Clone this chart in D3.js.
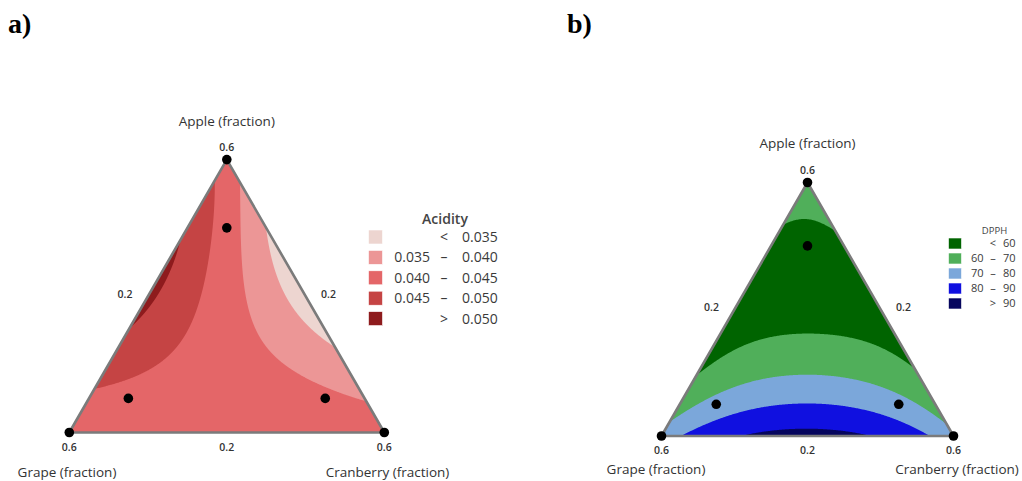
<!DOCTYPE html>
<html><head><meta charset="utf-8">
<script src="https://cdn.jsdelivr.net/npm/d3@7"></script>
<style>
body{margin:0;background:#fff}
</style>
</head><body>
<svg id="c" width="1022" height="481" font-family="'Open Sans','Noto Sans',sans-serif"></svg>
<script>
// ---------- DATA (compositions are pseudo-component fractions: apple, grape, cranberry) ----------
const componentNames = ["Apple (fraction)", "Grape (fraction)", "Cranberry (fraction)"];
const vertexTick = "0.6";
const midTick = "0.2";
const designPoints = [[1,0,0],[0,1,0],[0,0,1],[0.75,0.125,0.125],[0.125,0.75,0.125],[0.125,0.125,0.75]];

const acidityThresholds = [0.035, 0.040, 0.045, 0.050];
const acidityColors = ["#EDD5D0", "#EC9696", "#E46668", "#C54444", "#8E1B1D"];
const acidityLegend = [["", "<", "0.035"], ["0.035", "–", "0.040"], ["0.040", "–", "0.045"], ["0.045", "–", "0.050"], ["", ">", "0.050"]];
// readings [apple, grape, cranberry, acidity]
const acidityObs = [
  [0.912,0.079,0.009,0.045],[0.790,0.148,0.062,0.045],[0.668,0.219,0.113,0.045],[0.546,0.292,0.162,0.045],
  [0.461,0.350,0.189,0.045],[0.388,0.413,0.199,0.045],[0.315,0.502,0.183,0.045],[0.254,0.607,0.139,0.045],
  [0.205,0.716,0.079,0.045],[0.159,0.841,0.000,0.045],
  [0.705,0.295,0.000,0.050],[0.620,0.362,0.018,0.050],[0.522,0.453,0.025,0.050],[0.449,0.531,0.020,0.050],[0.388,0.612,0.000,0.050],
  [0.918,0.000,0.082,0.040],[0.790,0.068,0.142,0.040],[0.668,0.126,0.206,0.040],[0.546,0.178,0.276,0.040],
  [0.449,0.214,0.337,0.040],[0.351,0.231,0.418,0.040],[0.278,0.225,0.497,0.040],[0.217,0.181,0.602,0.040],
  [0.168,0.099,0.733,0.040],[0.120,0.000,0.880,0.040],
  [0.741,0.000,0.259,0.035],[0.644,0.032,0.324,0.035],[0.546,0.049,0.405,0.035],[0.461,0.049,0.490,0.035],
  [0.388,0.032,0.580,0.035],[0.296,0.000,0.704,0.035],
  [1,0,0,0.0425],[0,1,0,0.0395],[0,0,1,0.0415],[0,0.5,0.5,0.0425],[0,0.75,0.25,0.042],[0,0.25,0.75,0.042],
  [0.3333,0.3333,0.3334,0.0425],[0.55,0.45,0,0.0515],[0.52,0,0.48,0.0318],[0.55,0.02,0.43,0.0328],
  [0.45,0.02,0.53,0.0330],[0.64,0.0,0.36,0.0328],
  [0.75,0.125,0.125,0.0425],[0.125,0.75,0.125,0.0435],[0.125,0.125,0.75,0.0412],[0.08,0.92,0,0.043]
];

const dpphThresholds = [60, 70, 80, 90];
const dpphColors = ["#006400", "#50AF5A", "#7BA7DA", "#1010E0", "#06065E"];
const dpphLegend = [["", "<", "60"], ["60", "–", "70"], ["70", "–", "80"], ["80", "–", "90"], ["", ">", "90"]];
// readings [apple, grape, cranberry, DPPH]
const dpphObs = [
  [0.871,0.129,0.000,60],[0.847,0.076,0.077,60],[0.834,0.000,0.166,60],
  [0.212,0.788,0.000,60],[0.319,0.596,0.085,60],[0.385,0.414,0.201,60],[0.411,0.287,0.302,60],
  [0.398,0.179,0.423,60],[0.332,0.075,0.593,60],[0.253,0.000,0.747,60],
  [0.070,0.930,0.000,70],[0.175,0.724,0.101,70],[0.227,0.527,0.246,70],[0.243,0.371,0.386,70],
  [0.227,0.241,0.532,70],[0.162,0.102,0.736,70],[0.063,0.000,0.937,70],
  [0.007,0.911,0.082,80],[0.070,0.776,0.154,80],[0.112,0.607,0.281,80],[0.125,0.441,0.434,80],
  [0.115,0.297,0.588,80],[0.076,0.179,0.745,80],[0.007,0.099,0.894,80],
  [0.007,0.694,0.299,90],[0.028,0.512,0.460,90],[0.017,0.323,0.660,90],[0.007,0.293,0.700,90],
  [1,0,0,63],[0,1,0,74],[0,0,1,72.5],[0,0.5,0.5,92.5],[0.62,0.19,0.19,56],[0.55,0.45,0,56.5],[0.55,0,0.45,57]
];

// ---------- MODEL FIT (least squares polynomial response surface) ----------
function basis(a, c, deg) {
  const t = [];
  for (let i = 0; i <= deg; i++) for (let j = 0; i + j <= deg; j++) t.push(Math.pow(a, i) * Math.pow(c, j));
  return t;
}
function fitSurface(obs, deg, ridge) {
  const vals = obs.map(o => o[3]);
  const mu = d3.mean(vals), sd = d3.deviation(vals);
  const X = obs.map(o => basis(o[0], o[2], deg));
  const y = vals.map(v => (v - mu) / sd);
  const p = X[0].length;
  const A = Array.from({length: p}, () => new Array(p + 1).fill(0));
  X.forEach((row, k) => {
    for (let i = 0; i < p; i++) {
      for (let j = 0; j < p; j++) A[i][j] += row[i] * row[j];
      A[i][p] += row[i] * y[k];
    }
  });
  for (let i = 0; i < p; i++) A[i][i] += ridge;
  for (let col = 0; col < p; col++) {
    let piv = col;
    for (let r = col + 1; r < p; r++) if (Math.abs(A[r][col]) > Math.abs(A[piv][col])) piv = r;
    [A[col], A[piv]] = [A[piv], A[col]];
    for (let r = 0; r < p; r++) {
      if (r === col) continue;
      const f = A[r][col] / A[col][col];
      for (let k = col; k <= p; k++) A[r][k] -= f * A[col][k];
    }
  }
  const beta = A.map((row, i) => row[p] / row[i]);
  return (a, c) => mu + sd * d3.sum(basis(a, c, deg), (b, i) => b * beta[i]);
}

// ---------- DRAW ----------
const svg = d3.select("#c");
const defs = svg.append("defs");

function panel(cfg) {
  const {id, BL, BR, apexY, obs, thresholds, colors, deg} = cfg;
  const xs = d3.scaleLinear().domain([0, 1]).range([BL[0], BR[0]]);
  const ys = d3.scaleLinear().domain([0, 1]).range([BL[1], apexY]);
  const pos = (a, g, c) => [xs(c + a / 2), ys(a)];
  const f = fitSurface(obs, deg, 1e-6);

  const pad = 0.03;
  const nx = Math.round((BR[0] - BL[0]) * (1 + 2 * pad)) + 1;
  const ny = Math.round((BL[1] - apexY) * (1 + 2 * pad)) + 1;
  const gx = i => -pad + i * (1 + 2 * pad) / (nx - 1);
  const gy = j => 1 + pad - j * (1 + 2 * pad) / (ny - 1);
  const values = new Float64Array(nx * ny);
  for (let j = 0; j < ny; j++) for (let i = 0; i < nx; i++) {
    const Y = gy(j), X = gx(i);
    values[j * nx + i] = f(Y, X - Y / 2);
  }
  const contours = d3.contours().size([nx, ny]).thresholds(thresholds)(values);
  const proj = d3.geoTransform({
    point: function(x, y) { this.stream.point(xs(gx(x - 0.5)), ys(gy(y - 0.5))); }
  });
  const path = d3.geoPath(proj);

  const tri = [pos(1,0,0), pos(0,1,0), pos(0,0,1)];
  const triD = "M" + tri.map(p => p.join(",")).join("L") + "Z";
  defs.append("clipPath").attr("id", id).append("path").attr("d", triD);

  const g = svg.append("g");
  const cg = g.append("g").attr("clip-path", `url(#${id})`);
  cg.append("path").attr("d", triD).attr("fill", colors[0]);
  cg.selectAll("path.band").data(contours).join("path").attr("class", "band")
    .attr("d", path).attr("fill", (d, i) => colors[i + 1]);
  g.append("path").attr("d", triD).attr("fill", "none").attr("stroke", "#7b7b7b")
    .attr("stroke-width", 2.6).attr("stroke-linejoin", "round");

  g.selectAll("circle").data(designPoints).join("circle")
    .attr("cx", d => pos(...d)[0]).attr("cy", d => pos(...d)[1]).attr("r", 4.8).attr("fill", "#000");

  // tick labels
  const tk = (x, y, t) => g.append("text").attr("x", x).attr("y", y).attr("text-anchor", "middle")
    .attr("font-size", 10.5).attr("font-weight", 600).attr("fill", "#333").text(t);
  const ap = pos(1,0,0), gp = pos(0,1,0), cp = pos(0,0,1);
  tk(ap[0], ap[1] - 9, vertexTick);
  tk(gp[0], gp[1] + 18, vertexTick);
  tk(cp[0], cp[1] + 18, vertexTick);
  tk((gp[0] + cp[0]) / 2, gp[1] + 18, midTick);
  const ml = pos(0.5, 0.5, 0), mr = pos(0.5, 0, 0.5);
  tk(ml[0] - 23, ml[1] + 2, midTick);
  tk(mr[0] + 23, mr[1] + 2, midTick);

  const lab = (x, y, t) => g.append("text").attr("x", x).attr("y", y).attr("text-anchor", "middle")
    .attr("font-size", 13.5).attr("fill", "#333").text(t);
  lab(ap[0], cfg.appleY, componentNames[0]);
  lab(cfg.grapeX, cfg.bottomLabelY, componentNames[1]);
  lab(cfg.cranX, cfg.bottomLabelY, componentNames[2]);
}

panel({id: "clipA", BL: [69.3, 432.5], BR: [384.3, 432.5], apexY: 159.6, obs: acidityObs,
  thresholds: acidityThresholds, colors: acidityColors, deg: 4,
  appleY: 126, grapeX: 67, cranX: 387.5, bottomLabelY: 477});
panel({id: "clipB", BL: [661.5, 436], BR: [953.5, 436], apexY: 182.5, obs: dpphObs,
  thresholds: dpphThresholds, colors: dpphColors, deg: 4,
  appleY: 148, grapeX: 656, cranX: 957, bottomLabelY: 474});

// legends
function legend(cfg) {
  const g = svg.append("g");
  g.append("text").attr("x", cfg.titleX).attr("y", cfg.titleY).attr("text-anchor", "middle")
    .attr("font-size", cfg.titleSize).attr("font-weight", cfg.titleWeight).attr("fill", "#444").text(cfg.title);
  cfg.rows.forEach((r, i) => {
    const cy = cfg.y0 + i * cfg.dy;
    g.append("rect").attr("x", cfg.sx).attr("y", cy - cfg.sh / 2).attr("width", cfg.sw).attr("height", cfg.sh)
      .attr("fill", cfg.colors[i]).attr("stroke", "#fff").attr("stroke-width", 0.6);
    const t = (x, anchor, s) => g.append("text").attr("x", x).attr("y", cy + cfg.fs * 0.36)
      .attr("text-anchor", anchor).attr("font-size", cfg.fs).attr("fill", "#3a3a3a").text(s);
    t(cfg.c1, "end", r[0]);
    t(cfg.c2, "middle", r[1]);
    t(cfg.c3, "start", r[2]);
  });
}
legend({title: "Acidity", titleX: 445, titleY: 224, titleSize: 14, titleWeight: 600, rows: acidityLegend,
  colors: acidityColors, y0: 237, dy: 20.4, sx: 368.5, sw: 14, sh: 14, fs: 14, c1: 430, c2: 444, c3: 462});
legend({title: "DPPH", titleX: 994.5, titleY: 233.5, titleSize: 9.5, titleWeight: 400, rows: dpphLegend,
  colors: dpphColors, y0: 243.5, dy: 15, sx: 948.5, sw: 13, sh: 11, fs: 11, c1: 983.5, c2: 993, c3: 1003});

// panel letters
svg.append("text").attr("x", 8).attr("y", 33).style("font-family", "'Liberation Serif','Times New Roman',serif")
  .attr("font-size", 28).attr("font-weight", 700).attr("fill", "#000").text("a)");
svg.append("text").attr("x", 567).attr("y", 33).style("font-family", "'Liberation Serif','Times New Roman',serif")
  .attr("font-size", 28).attr("font-weight", 700).attr("fill", "#000").text("b)");
</script>
</body></html>
